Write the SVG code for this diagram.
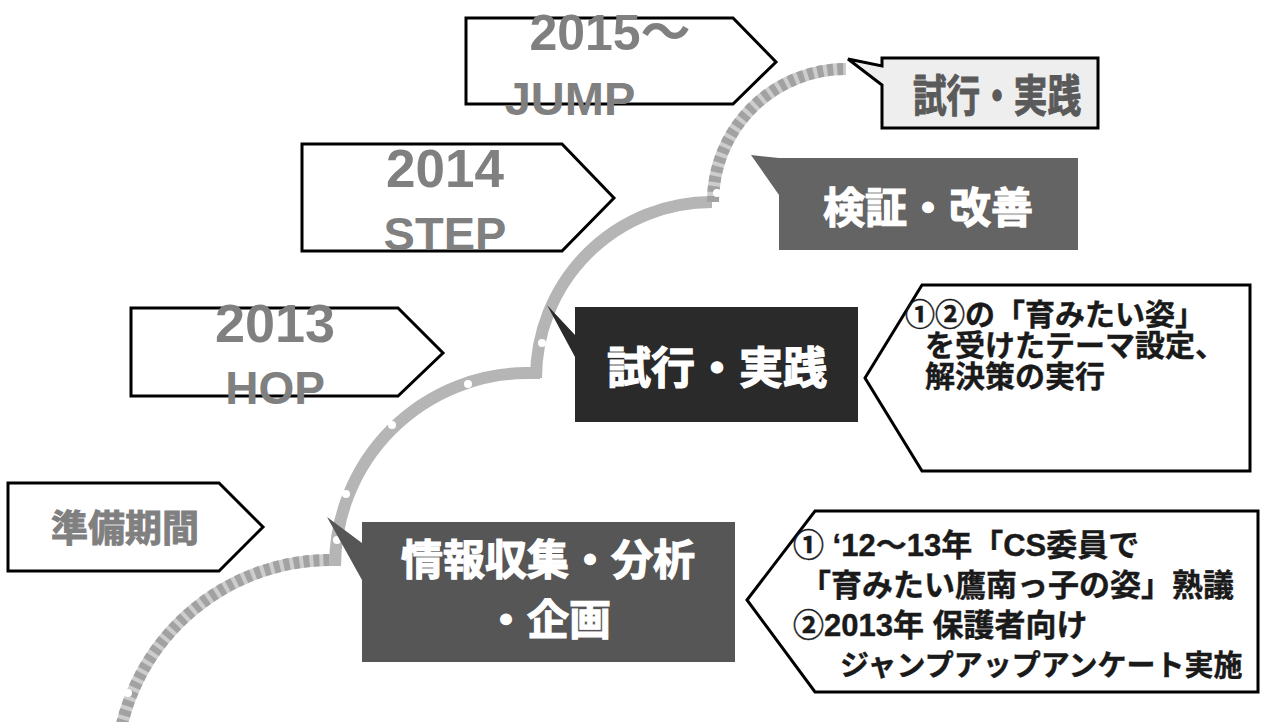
<svg xmlns="http://www.w3.org/2000/svg" width="1263" height="722" viewBox="0 0 1263 722">
<defs>
<style>
.solid{fill:none;stroke:#b5b5b5;stroke-width:12}
.dashbase{fill:none;stroke:#cdcdcd;stroke-width:12}
.dash{fill:none;stroke:#a2a2a2;stroke-width:12;stroke-dasharray:6 4}
.dot{fill:#ffffff}
.arr{fill:#ffffff;stroke:#000000;stroke-width:3;stroke-linejoin:miter}
.yr{font-family:"Liberation Sans","Noto Sans CJK JP",sans-serif;font-weight:700;fill:#808080;text-anchor:middle}
.jp{font-family:"Liberation Sans","Noto Sans CJK JP",sans-serif;font-weight:700}
.head{fill:#ffffff;stroke:#ffffff;stroke-width:1.2;text-anchor:middle}
.note{fill:#1a1a1a;stroke:#1a1a1a;stroke-width:0.4}
</style>
<filter id="soft" x="-5%" y="-5%" width="110%" height="110%"><feGaussianBlur stdDeviation="0.7"/></filter>
</defs>
<rect width="1263" height="722" fill="#ffffff"/>
<g id="connectors" filter="url(#soft)">
<path class="dashbase" d="M 118 745 A 215 215 0 0 1 335 560"/>
<path class="dash" d="M 118 745 A 215 215 0 0 1 335 560"/>
<path class="solid" d="M 335 566 A 193 193 0 0 1 528 373 L 540 373"/>
<path class="solid" d="M 536 378 A 176 176 0 0 1 712 202"/>
<path class="dashbase" d="M 713 202 A 133 133 0 0 1 846 69"/>
<path class="dash" d="M 713 202 A 133 133 0 0 1 846 69"/>
<circle class="dot" cx="128" cy="693" r="4"/>
<circle class="dot" cx="337" cy="540" r="4"/>
<circle class="dot" cx="346" cy="494" r="4"/>
<circle class="dot" cx="392" cy="425" r="4"/>
<circle class="dot" cx="468" cy="384" r="4"/>
<circle class="dot" cx="542" cy="343" r="4"/>
<circle class="dot" cx="717" cy="193" r="4"/>
</g>
<g id="jump">
<polygon class="arr" points="466,18 733,18 776,62 733,104 466,104"/>
<text class="yr" x="610" y="50" font-size="50">2015～</text>
<text class="yr" x="570" y="115" font-size="47">JUMP</text>
</g>
<g id="step">
<polygon class="arr" points="302,144 562,144 614,198 562,251 302,251"/>
<text class="yr" x="445" y="187" font-size="53">2014</text>
<text class="yr" x="445" y="250" font-size="47">STEP</text>
</g>
<g id="hop">
<polygon class="arr" points="131,308 398,308 443,353 398,396 131,396"/>
<text class="yr" x="275" y="342" font-size="54">2013</text>
<text class="yr" x="275" y="404" font-size="46">HOP</text>
</g>
<g id="prep">
<polygon class="arr" points="8,483 219,483 263,527 219,571 8,571"/>
<text class="yr" x="125" y="542" font-size="37" stroke="#808080" stroke-width="1">準備期間</text>
</g>
<g id="trial-top">
<path d="M 882 58 H 1098 V 128 H 882 V 85 L 848 59 L 882 66 Z" fill="#eeeeee" stroke="#000000" stroke-width="3"/>
<text class="jp" x="997" y="112" font-size="44" fill="#5a5a5a" stroke="#5a5a5a" stroke-width="1" text-anchor="middle" textLength="168" lengthAdjust="spacingAndGlyphs">試行・実践</text>
</g>
<g id="verify">
<path d="M 779 158 H 1078 V 250 H 779 V 195 L 751 155 Z" fill="#646464"/>
<text class="jp head" x="928" y="223" font-size="42">検証・改善</text>
</g>
<g id="trial">
<path d="M 575 307 H 858 V 422 H 575 V 357 L 547 305 L 575 335 Z" fill="#2a2a2a"/>
<text class="jp head" x="717" y="384" font-size="44">試行・実践</text>
</g>
<g id="collect">
<path d="M 362 522 H 735 V 662 H 362 V 580 L 327 517 L 362 543 Z" fill="#565656"/>
<text class="jp head" x="548" y="575" font-size="42">情報収集・分析</text>
<text class="jp head" x="548" y="635" font-size="42">・企画</text>
</g>
<g id="note-trial">
<polygon class="arr" points="865,378 922,285 1250,285 1250,471 922,471"/>
<text class="jp note" x="905" y="325" font-size="30">①②の「育みたい姿」</text>
<text class="jp note" x="925" y="356" font-size="30">を受けたテーマ設定、</text>
<text class="jp note" x="925" y="387" font-size="30">解決策の実行</text>
</g>
<g id="note-collect">
<polygon class="arr" points="747,600 815,511 1258,511 1258,692 815,692"/>
<text class="jp note" x="793" y="556" font-size="31">① ‘12～13年「CS委員で</text>
<text class="jp note" x="800" y="596" font-size="31">「育みたい鷹南っ子の姿」熟議</text>
<text class="jp note" x="793" y="636" font-size="31">②2013年 保護者向け</text>
<text class="jp note" x="840" y="676" font-size="29">ジャンプアップアンケート実施</text>
</g>
</svg>
